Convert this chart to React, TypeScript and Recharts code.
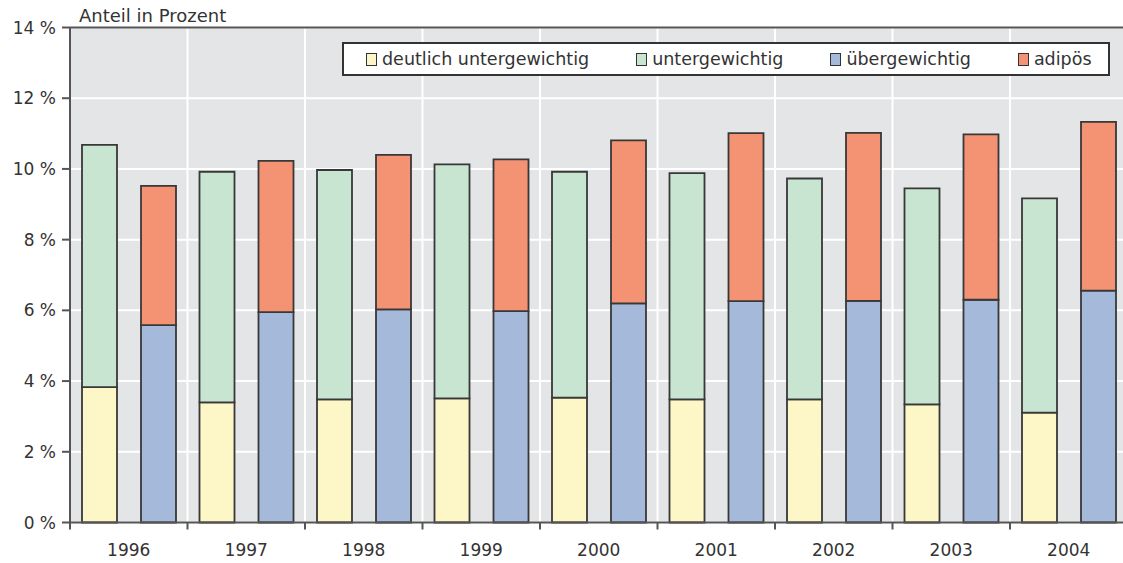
import React from 'react';
import { BarChart, Bar, XAxis, YAxis, CartesianGrid, Legend, ReferenceLine } from 'recharts';

// Anteil der Kinder je Gewichtsklasse, in Prozent
const years = ['1996', '1997', '1998', '1999', '2000', '2001', '2002', '2003', '2004'];
const deutlichUntergewichtig = [3.83, 3.4, 3.48, 3.51, 3.53, 3.48, 3.48, 3.34, 3.11];
const untergewichtig = [6.85, 6.52, 6.49, 6.62, 6.39, 6.4, 6.25, 6.11, 6.06];
const uebergewichtig = [5.58, 5.95, 6.03, 5.98, 6.2, 6.26, 6.27, 6.3, 6.56];
const adipoes = [3.94, 4.28, 4.37, 4.29, 4.61, 4.75, 4.75, 4.68, 4.77];
const yTicks = [0, 2, 4, 6, 8, 10, 12, 14];

const FONT = '"DejaVu Sans", Verdana, sans-serif';
const INK = '#333333';
const AXIS = '#555555';

const CHART_W = 1130;
const CHART_H = 563;
const Y_AXIS_W = 70;
const MARGIN = { top: 27.5, right: 2.5, bottom: 0, left: 0 };
const HALF_BAND = (CHART_W - Y_AXIS_W - MARGIN.left - MARGIN.right) / years.length / 2;
const LABEL_GAP = 21;

const SERIES = [
  { key: 'deutlich', name: 'deutlich untergewichtig', stack: 'unter', fill: '#fdf6c6' },
  { key: 'unter', name: 'untergewichtig', stack: 'unter', fill: '#c8e5d2' },
  { key: 'ueber', name: 'übergewichtig', stack: 'ueber', fill: '#a5b9da' },
  { key: 'adipoes', name: 'adipös', stack: 'ueber', fill: '#f49373' },
];

const data = years.map((year, i) => ({
  year,
  idx: i + 0.5,
  deutlich: deutlichUntergewichtig[i],
  unter: untergewichtig[i],
  ueber: uebergewichtig[i],
  adipoes: adipoes[i],
}));

// boundaries between the years, on a helper index axis (vertical grid only)
const boundaries = years.slice(1).map((_, i) => i + 1);

// year label plus a short tick mark at the left edge of its band
const YearTick = ({ x, y, payload }: any) => (
  <g>
    <line x1={x - HALF_BAND} x2={x - HALF_BAND} y1={y - LABEL_GAP} y2={y - LABEL_GAP + 7} stroke={AXIS} strokeWidth={2} />
    <text x={x} y={y} dy="0.71em" textAnchor="middle" fill={INK} fontSize={17} fontFamily={FONT}>
      {payload.value}
    </text>
  </g>
);

const LegendBox = () => (
  <div
    style={{
      display: 'flex',
      alignItems: 'center',
      gap: 47,
      height: 34,
      boxSizing: 'border-box',
      padding: '0 0 0 22px',
      border: `2px solid ${INK}`,
      background: '#fff',
      fontFamily: FONT,
      fontSize: 17.5,
      color: INK,
      whiteSpace: 'nowrap',
    }}
  >
    {SERIES.map((s) => (
      <div key={s.key} style={{ display: 'flex', alignItems: 'center' }}>
        <span
          style={{
            display: 'inline-block',
            width: 9,
            height: 11,
            marginRight: 5,
            border: `1.5px solid ${INK}`,
            background: s.fill,
          }}
        />
        {s.name}
      </div>
    ))}
  </div>
);

export default function App() {
  return (
    <div
      style={{
        position: 'absolute',
        left: 0,
        top: 0,
        width: 1123,
        height: 563,
        overflow: 'hidden',
        background: '#fff',
        fontFamily: FONT,
      }}
    >
      <div style={{ position: 'absolute', left: 79, top: 5, fontSize: 18, color: INK }}>Anteil in Prozent</div>
      <BarChart width={CHART_W} height={CHART_H} data={data} margin={MARGIN} barSize={35} barGap={24}>
        <CartesianGrid xAxisId="idx" fill="#e4e5e7" stroke="#ffffff" strokeWidth={2} strokeDasharray="0" />
        <XAxis
          xAxisId="idx"
          dataKey="idx"
          type="number"
          domain={[0, years.length]}
          ticks={boundaries}
          height={0}
          axisLine={false}
          tickLine={false}
          tick={() => <g />}
        />
        <XAxis
          dataKey="year"
          height={40.5}
          axisLine={{ stroke: AXIS, strokeWidth: 2 }}
          tickLine={false}
          tickSize={0}
          tickMargin={LABEL_GAP}
          tick={<YearTick />}
          interval={0}
        />
        <YAxis
          domain={[0, 14]}
          ticks={yTicks}
          interval={0}
          width={Y_AXIS_W}
          tickFormatter={(v) => `${v} %`}
          axisLine={{ stroke: AXIS, strokeWidth: 2 }}
          tickLine={{ stroke: AXIS, strokeWidth: 2 }}
          tickSize={8}
          tickMargin={6}
          tick={{ fill: INK, fontSize: 17, fontFamily: FONT }}
        />
        <ReferenceLine y={14} stroke={AXIS} strokeWidth={2} />
        <Legend
          layout="horizontal"
          verticalAlign="middle"
          align="center"
          wrapperStyle={{ top: 42, left: 342, width: 768, height: 34 }}
          content={() => <LegendBox />}
        />
        {SERIES.map((s) => (
          <Bar
            key={s.key}
            dataKey={s.key}
            name={s.name}
            stackId={s.stack}
            fill={s.fill}
            stroke="#383838"
            strokeWidth={1.8}
            isAnimationActive={false}
          />
        ))}
      </BarChart>
    </div>
  );
}
